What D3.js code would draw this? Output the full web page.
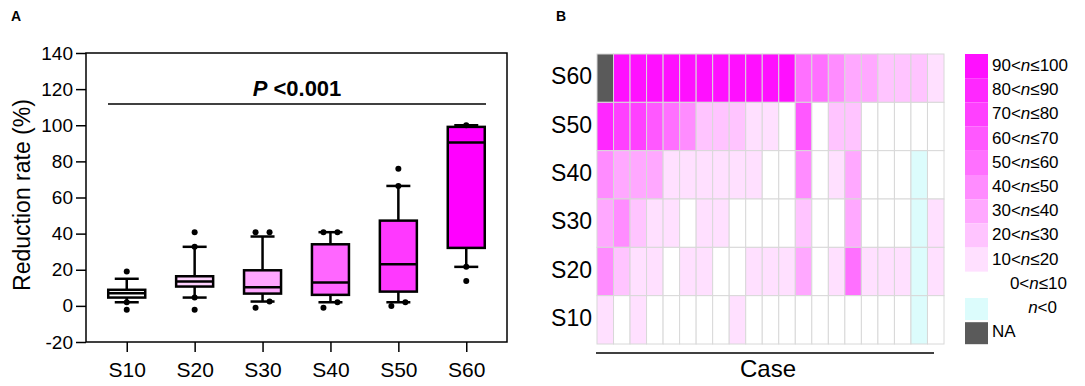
<!DOCTYPE html>
<html>
<head>
<meta charset="utf-8">
<script src="https://cdn.jsdelivr.net/npm/d3@7"></script>
<style>
  body { margin: 0; background: #fff; }
  text { font-family: "Liberation Sans", Arial, sans-serif; fill: #000; }
</style>
</head>
<body>
<div id="chart"></div>
<script>
// Panel A - box plot data
const groups = ["S10", "S20", "S30", "S40", "S50", "S60"];
const q1 = [4.6, 10.7, 6.8, 6.1, 7.9, 32.1];
const medians = [7.0, 13.5, 10.3, 12.9, 23.0, 90.4];
const q3 = [8.9, 16.4, 19.7, 34.1, 47.2, 99.1];
const whiskerLow = [2.0, 4.6, 2.4, 2.0, 2.0, 21.6];
const whiskerHigh = [15.0, 32.7, 38.4, 40.8, 66.4, 100];
const outliers = [
    [19, 2.0, -2.2],
    [40.8, 32.7, 4.6, -2.2],
    [40.8, 40.8, 2.4, -1.1],
    [40.8, 40.8, 2.0, -1.1],
    [75.9, 66.4, 2.0, 0],
    [100, 21.6, 13.8]
];
const boxFills = ["#ffffff", "#ffd2ff", "#ffa6ff", "#ff66ff", "#ff38ff", "#ff00ff"];
const yTicks = [-20, 0, 20, 40, 60, 80, 100, 120, 140];

// Panel B - heatmap data (reduction rate per case, null = NA)
const heatRows = ["S60", "S50", "S40", "S30", "S20", "S10"];
const s60Cells = [null, 95, 95, 95, 95, 95, 95, 95, 95, 95, 95, 95, 55, 55, 45, 35, 35, 25, 25, 25, 15];
const s50Cells = [85, 75, 75, 65, 55, 45, 25, 25, 25, 15, 15, 5, 65, 5, 25, 25, 5, 5, 5, 5, 5];
const s40Cells = [45, 35, 35, 35, 15, 15, 15, 15, 15, 15, 5, 5, 45, 5, 15, 35, 5, 5, 5, -5, 5];
const s30Cells = [35, 45, 25, 15, 15, 5, 15, 15, 5, 5, 5, 5, 25, 5, 5, 35, 5, 5, 5, -5, 15];
const s20Cells = [45, 25, 15, 15, 5, 15, 15, 5, 5, 15, 15, 15, 35, 5, 15, 55, 15, 15, 15, -5, 15];
const s10Cells = [15, 5, 15, 5, 5, 5, 5, 5, 15, 5, 5, 5, 5, 5, 5, 5, 5, 5, 5, -5, 5];
const binEdges = [0, 10, 20, 30, 40, 50, 60, 70, 80, 90];
const binColors = ["#dcfcfc", "#ffffff", "#ffe0ff", "#ffc4ff", "#ffa8ff", "#ff8cff",
    "#ff70ff", "#ff58ff", "#ff40ff", "#ff28ff", "#ff10ff"];
const naColor = "#5a5a5a";
const legendLabels = ["90<n≤100", "80<n≤90", "70<n≤80", "60<n≤70", "50<n≤60", "40<n≤50",
    "30<n≤40", "20<n≤30", "10<n≤20", "0<n≤10", "n<0", "NA"];

const svg = d3.select("#chart").append("svg")
    .attr("width", 1085)
    .attr("height", 386);

// ---------- Panel A ----------
const plotLeft = 86, plotRight = 507, plotTop = 53, plotBottom = 342;

const xScale = d3.scalePoint()
    .domain(groups)
    .range([plotLeft, plotRight])
    .padding(0.6);

const yScale = d3.scaleLinear()
    .domain([-20, 140])
    .range([plotBottom, plotTop]);

svg.append("text")
    .attr("x", 11).attr("y", 21)
    .attr("font-size", 14).attr("font-weight", "bold")
    .text("A");

// frame
svg.append("rect")
    .attr("x", plotLeft).attr("y", plotTop)
    .attr("width", plotRight - plotLeft).attr("height", plotBottom - plotTop)
    .attr("fill", "none").attr("stroke", "#000").attr("stroke-width", 1.5);

const yAxis = svg.append("g")
    .attr("transform", `translate(${plotLeft},0)`)
    .call(d3.axisLeft(yScale).tickValues(yTicks).tickFormat(d => String(d)).tickSize(10).tickPadding(3));
yAxis.select(".domain").remove();
yAxis.selectAll("line").attr("stroke-width", 1.5);
yAxis.selectAll("text").attr("font-size", 19).attr("font-family", "Liberation Sans, Arial, sans-serif");

const xAxis = svg.append("g")
    .attr("transform", `translate(0,${plotBottom})`)
    .call(d3.axisBottom(xScale).tickSize(10).tickPadding(10));
xAxis.select(".domain").remove();
xAxis.selectAll("line").attr("stroke-width", 1.5);
xAxis.selectAll("text").attr("font-size", 21).attr("font-family", "Liberation Sans, Arial, sans-serif");

svg.append("text")
    .attr("transform", `translate(30,195) rotate(-90)`)
    .attr("text-anchor", "middle")
    .attr("font-size", 23)
    .text("Reduction rate (%)");

// P value
const pText = svg.append("text")
    .attr("x", 297).attr("y", 96)
    .attr("text-anchor", "middle")
    .attr("font-size", 22).attr("font-weight", "bold");
pText.append("tspan").attr("font-style", "italic").text("P");
pText.append("tspan").text(" <0.001");

svg.append("line")
    .attr("x1", 108).attr("x2", 486)
    .attr("y1", 104).attr("y2", 104)
    .attr("stroke", "#000").attr("stroke-width", 1.5);

// boxes
const boxW = 37, capW = 24;
groups.forEach((g, i) => {
    const cx = xScale(g);
    const grp = svg.append("g");
    // whiskers
    grp.append("line")
        .attr("x1", cx).attr("x2", cx)
        .attr("y1", yScale(whiskerHigh[i])).attr("y2", yScale(q3[i]))
        .attr("stroke", "#000").attr("stroke-width", 2.5);
    grp.append("line")
        .attr("x1", cx).attr("x2", cx)
        .attr("y1", yScale(q1[i])).attr("y2", yScale(whiskerLow[i]))
        .attr("stroke", "#000").attr("stroke-width", 2.5);
    [whiskerHigh[i], whiskerLow[i]].forEach(v => {
        grp.append("line")
            .attr("x1", cx - capW / 2).attr("x2", cx + capW / 2)
            .attr("y1", yScale(v)).attr("y2", yScale(v))
            .attr("stroke", "#000").attr("stroke-width", 2.5);
    });
    // box
    grp.append("rect")
        .attr("x", cx - boxW / 2).attr("width", boxW)
        .attr("y", yScale(q3[i])).attr("height", yScale(q1[i]) - yScale(q3[i]))
        .attr("fill", boxFills[i]).attr("stroke", "#000").attr("stroke-width", 2.5);
    grp.append("line")
        .attr("x1", cx - boxW / 2).attr("x2", cx + boxW / 2)
        .attr("y1", yScale(medians[i])).attr("y2", yScale(medians[i]))
        .attr("stroke", "#000").attr("stroke-width", 2.5);

    // outlier dots, close pairs are dodged sideways
    const vals = outliers[i].slice().sort((a, b) => a - b);
    const offs = vals.map(() => 0);
    for (let k = 0; k < vals.length - 1; k++) {
        if (offs[k] === 0 && vals[k + 1] - vals[k] < 4) {
            offs[k] = -7;
            offs[k + 1] = 7;
            k++;
        }
    }
    vals.forEach((v, k) => {
        grp.append("circle")
            .attr("cx", cx + offs[k]).attr("cy", yScale(v))
            .attr("r", 3).attr("fill", "#000");
    });
});

// ---------- Panel B ----------
const heatData = [s60Cells, s50Cells, s40Cells, s30Cells, s20Cells, s10Cells];
const nCases = s60Cells.length;

svg.append("text")
    .attr("x", 556).attr("y", 21)
    .attr("font-size", 14).attr("font-weight", "bold")
    .text("B");

const xCase = d3.scaleBand()
    .domain(d3.range(nCases))
    .range([597, 944]);

const yRow = d3.scaleBand()
    .domain(heatRows)
    .range([54, 344]);

const colorScale = d3.scaleThreshold()
    .domain(binEdges)
    .range(binColors);

heatRows.forEach((row, r) => {
    svg.append("g").selectAll("rect")
        .data(heatData[r])
        .join("rect")
        .attr("x", (d, c) => xCase(c))
        .attr("y", yRow(row))
        .attr("width", xCase.bandwidth())
        .attr("height", yRow.bandwidth())
        .attr("fill", d => d === null ? naColor : colorScale(d))
        .attr("stroke", "#d8d8d8")
        .attr("stroke-width", 1);

    svg.append("text")
        .attr("x", 592)
        .attr("y", yRow(row) + yRow.bandwidth() / 2 - 2)
        .attr("dy", "0.35em")
        .attr("text-anchor", "end")
        .attr("font-size", 23)
        .text(row);
});

svg.append("line")
    .attr("x1", 596).attr("x2", 934)
    .attr("y1", 353).attr("y2", 353)
    .attr("stroke", "#000").attr("stroke-width", 1.5);

svg.append("text")
    .attr("x", 768).attr("y", 377)
    .attr("text-anchor", "middle")
    .attr("font-size", 24)
    .text("Case");

// Legend
const legendColors = binColors.slice(1).reverse().concat([binColors[0], naColor]);
const legStep = 24.2, legTop = 54;
legendLabels.forEach((lab, i) => {
    const y0 = legTop + i * legStep + (i >= 10 ? 2 : 0);
    const h = i >= 10 ? 22 : legStep;
    svg.append("rect")
        .attr("x", 965).attr("y", y0)
        .attr("width", 23).attr("height", h)
        .attr("fill", legendColors[i]);

    const t = svg.append("text")
        .attr("y", legTop + i * legStep + 17)
        .attr("font-size", 17);
    if (lab === "0<n≤10") t.attr("x", 1067).attr("text-anchor", "end");
    else if (lab === "n<0") t.attr("x", 1057).attr("text-anchor", "end");
    else t.attr("x", 992);

    // italic n
    lab.split(/(n)/).forEach(part => {
        if (part === "") return;
        const sp = t.append("tspan").text(part);
        if (part === "n") sp.attr("font-style", "italic");
    });
});
</script>
</body>
</html>
